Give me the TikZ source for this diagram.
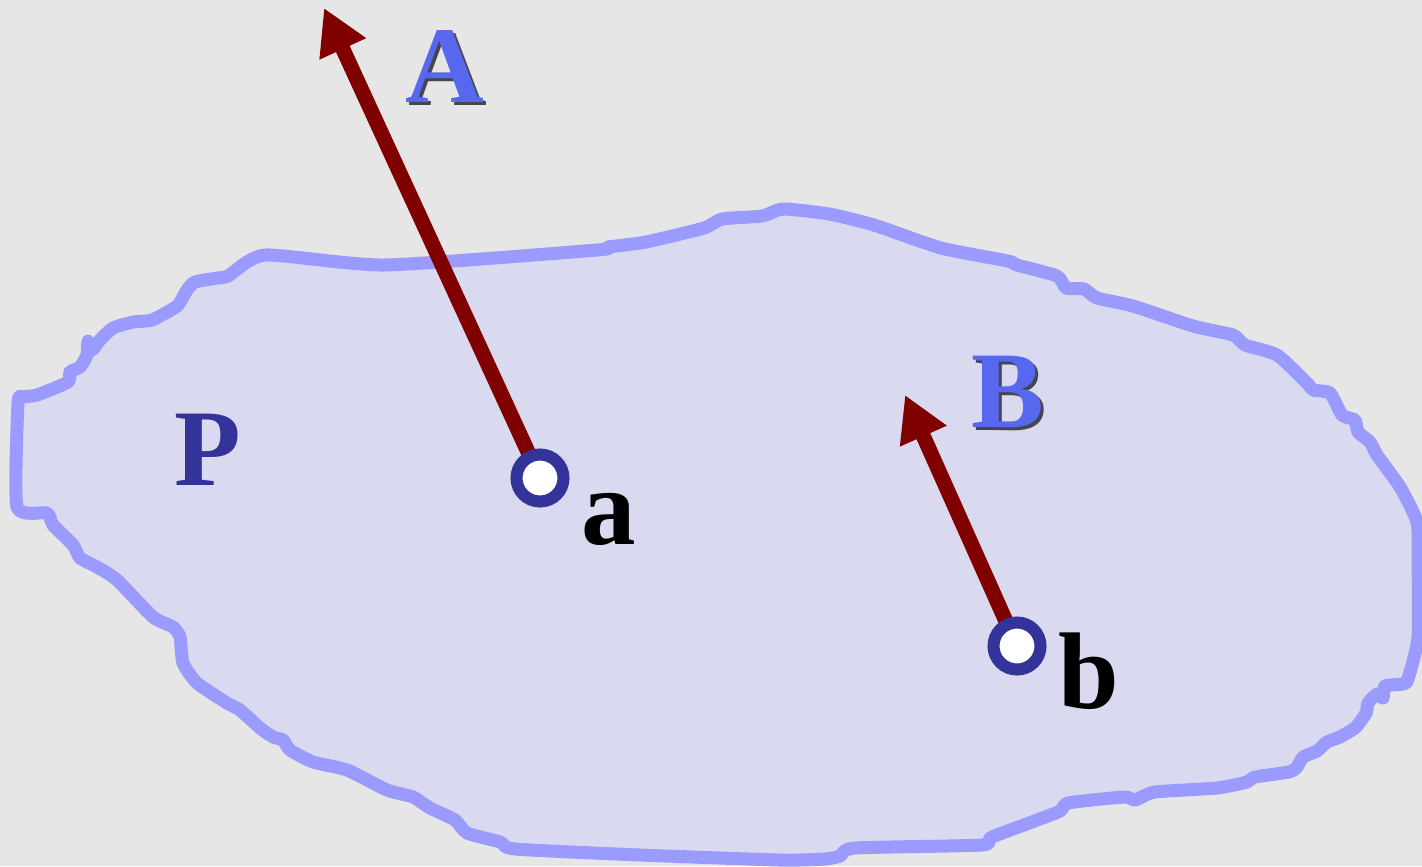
\documentclass[tikz,border=0pt]{standalone}
\usepackage{fontspec}
\setmainfont{Liberation Serif}
\usepackage{tikz}
\usepackage{xcolor}
\usetikzlibrary{arrows.meta, positioning}
\definecolor{bggray}{RGB}{230, 230, 230}
\definecolor{bodyfill}{RGB}{217, 217, 240}
\definecolor{bodyline}{RGB}{155, 155, 255}
\definecolor{vecred}{RGB}{128, 0, 0}
\definecolor{ringblue}{RGB}{51, 51, 153}
\definecolor{letterblue}{RGB}{88, 104, 238}
\definecolor{shadowgray}{RGB}{70, 70, 80}

\begin{document}
\begin{tikzpicture}[x=0.01cm, y=-0.01cm]
    \tikzstyle{vec} = [-{Triangle[length=0.45cm, width=0.48cm]}, line width=0.15cm, color=vecred]
    \tikzstyle{endpt} = [circle, draw=ringblue, fill=white, line width=0.12cm,
                         minimum size=0.47cm, inner sep=0pt]
    \tikzstyle{big} = [font=\fontsize{31}{36}\selectfont\bfseries, inner sep=0pt]

    \useasboundingbox (0,0) rectangle (1422,866);
    \fill[bggray] (0,0) rectangle (1422,866);

    % the body P
    \draw[fill=bodyfill, draw=bodyline, line width=0.13cm, line join=round]
      plot[smooth cycle, tension=0.35] coordinates {
        (17,507) (18,403) (23,397) (37,395) (68,382) (70,372) (80,367) (87,355)
        (88,341) (92,350) (100,340) (113,328) (133,322) (152,320) (177,306)
        (187,290) (195,282) (217,278) (228,276) (265,255) (385,265) (597,250)
        (608,247) (646,242) (704,228) (722,219) (762,216) (783,209) (829,214)
        (874,225) (941,248) (1008,261) (1017,265) (1057,276) (1066,288)
        (1084,289) (1097,298) (1133,306) (1193,326) (1233,335) (1245,345)
        (1277,355) (1307,383) (1313,390) (1330,393) (1342,415) (1355,420)
        (1358,432) (1370,442) (1377,455) (1400,487) (1417,522) (1418,560)
        (1418,637) (1408,679) (1403,684) (1385,686) (1383,698) (1377,694)
        (1368,703) (1366,713) (1356,727) (1340,737) (1327,742) (1317,751)
        (1303,757) (1297,767) (1289,772) (1255,777) (1247,782) (1217,788)
        (1155,792) (1135,800) (1124,797) (1068,803) (1058,812) (992,837)
        (982,845) (855,848) (840,856) (825,859) (780,860) (640,855) (515,849)
        (500,842) (467,833) (455,820) (430,808) (413,797) (387,790) (347,770)
        (313,762) (290,750) (283,740) (273,737) (260,728) (240,710) (227,703)
        (197,683) (183,663) (180,637) (173,627) (153,617) (117,580) (97,567)
        (80,558) (73,545) (53,525) (47,513)};

    \node[big, text=ringblue] (P) at (208,450) {P};

    % points and vectors
    \coordinate (tipA) at (324,8);
    \coordinate (tipB) at (905,395);
    \draw[vec] (540,478) -- (tipA);
    \draw[vec] (1017,646) -- (tipB);
    \node[endpt] (a) at (540,478) {};
    \node[endpt] (b) at (1017,646) {};

    \node[big, anchor=base] (la) at (609,544) {a};
    \node[big, anchor=base] (lb) at (1089,708) {b};

    \node[big, text=shadowgray] (A-sh) at (447.5,69.5) {A};
    \node[big, text=letterblue] (A) at (445,67) {A};
    \node[big, text=shadowgray] (B-sh) at (1010.5,394.5) {B};
    \node[big, text=letterblue] (B) at (1008,392) {B};
\end{tikzpicture}
\end{document}
